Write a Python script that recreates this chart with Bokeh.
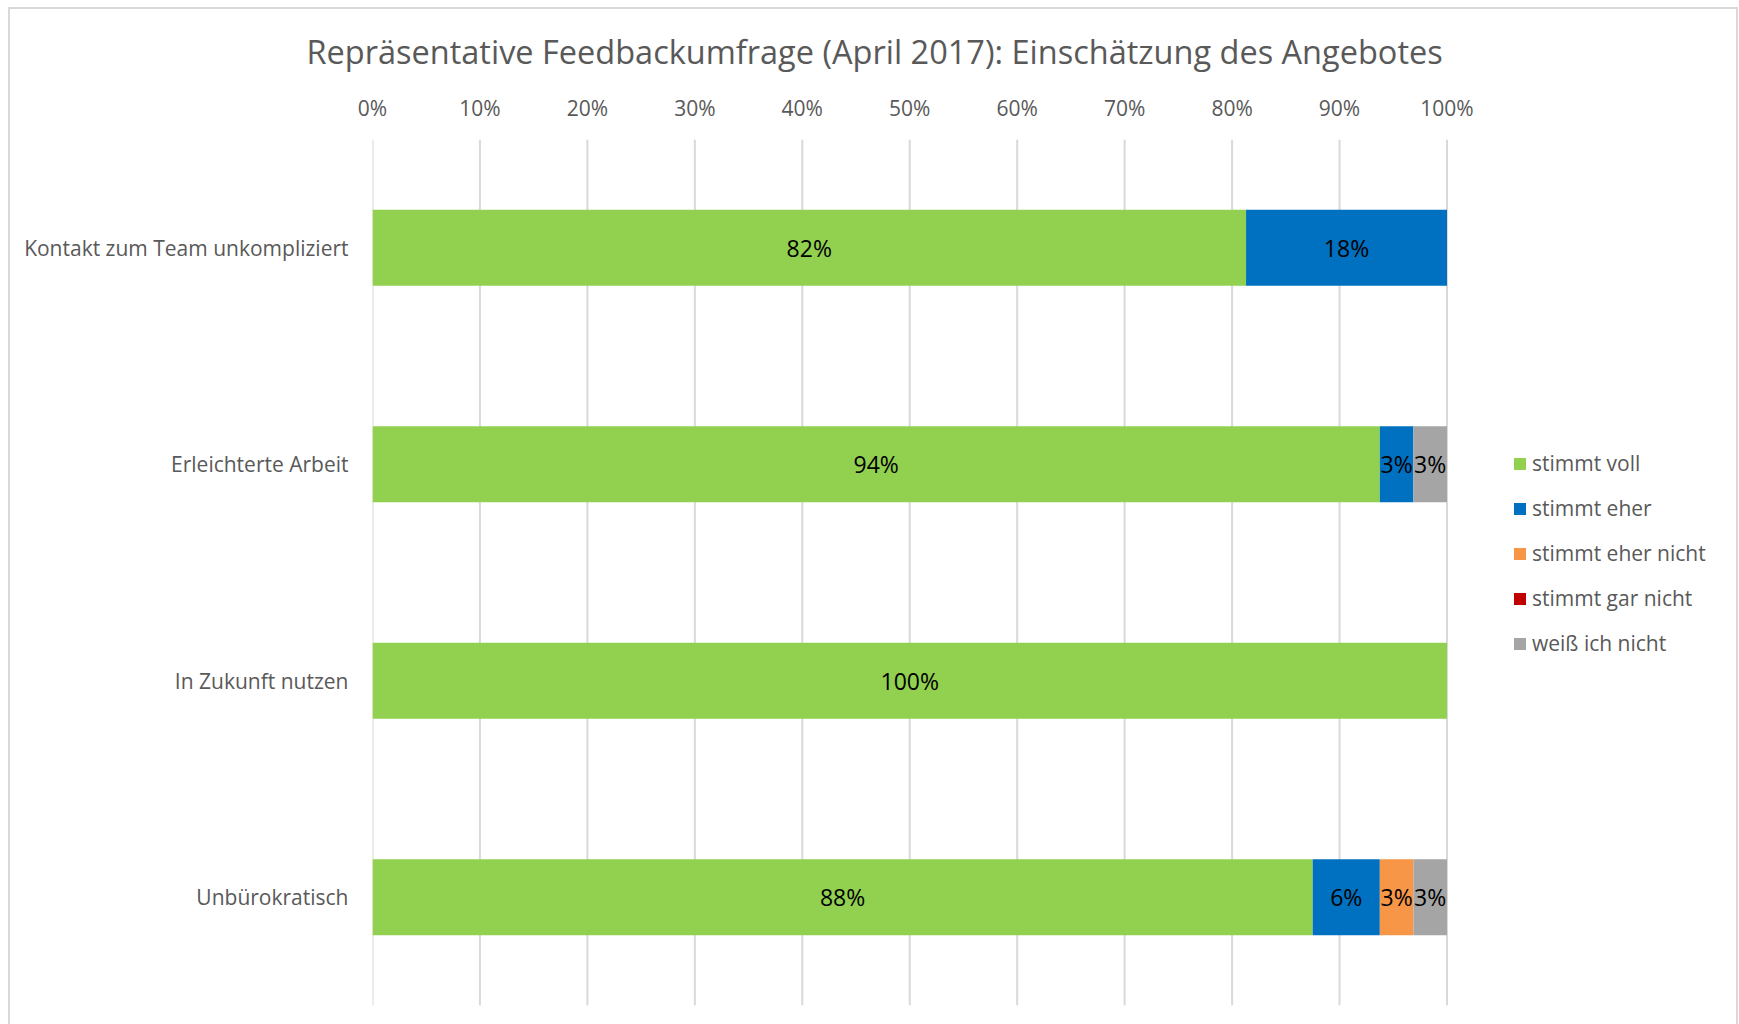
from bokeh.plotting import figure
from bokeh.models import (FactorRange, Range1d, FixedTicker, PrintfTickFormatter,
                          ColumnDataSource, Legend, LegendItem, Span)
from bokeh.core.properties import value
from bokeh.embed import file_html
from bokeh.resources import INLINE

title_text = "Repräsentative Feedbackumfrage (April 2017): Einschätzung des Angebotes"
categories = ["Kontakt zum Team unkompliziert", "Erleichterte Arbeit", "In Zukunft nutzen", "Unbürokratisch"]
series_names = ["stimmt voll", "stimmt eher", "stimmt eher nicht", "stimmt gar nicht", "weiß ich nicht"]
series_colors = ["#92D050", "#0070C0", "#F79646", "#C00000", "#A5A5A5"]

stimmt_voll = [81.3, 93.75, 100.0, 87.5]
stimmt_eher = [18.7, 3.125, 0.0, 6.25]
stimmt_eher_nicht = [0.0, 0.0, 0.0, 3.125]
stimmt_gar_nicht = [0.0, 0.0, 0.0, 0.0]
weiss_ich_nicht = [0.0, 3.125, 0.0, 3.125]

label_voll = ["82%", "94%", "100%", "88%"]
label_eher = ["18%", "3%", "", "6%"]
label_eher_nicht = ["", "", "", "3%"]
label_gar_nicht = ["", "", "", ""]
label_weiss = ["", "3%", "", "3%"]

x_ticks = [0, 10, 20, 30, 40, 50, 60, 70, 80, 90, 100]

FONT = "Open Sans"
GRAY = "#595959"

series_values = [stimmt_voll, stimmt_eher, stimmt_eher_nicht, stimmt_gar_nicht, weiss_ich_nicht]
series_labels = [label_voll, label_eher, label_eher_nicht, label_gar_nicht, label_weiss]

# frame extends past 100% to hold the legend; 100% sits at the same pixel as in the reference
FRAME_W = 1730 - 4 - 362 - 20
X_END = 100 * FRAME_W / 1071.3

p = figure(width=1730, height=1017, output_backend="svg", toolbar_location=None,
           y_range=FactorRange(*list(reversed(categories))), x_range=Range1d(0, X_END),
           x_axis_location="above",
           min_border_left=362, min_border_right=20, min_border_top=130, min_border_bottom=21)
p.styles = {"margin-left": "8px", "margin-top": "7px",
            "border-top": "2px solid #D9D9D9", "border-left": "2px solid #D9D9D9",
            "border-right": "2px solid #D9D9D9"}

p.title.text = title_text
p.title.align = "left"
p.title.offset = -66
p.title.standoff = 33
p.title.text_font = FONT
p.title.text_font_size = "32.5px"
p.title.text_font_style = "normal"
p.title.text_color = GRAY

p.outline_line_color = None
p.background_fill_color = "white"
p.border_fill_color = "white"

# vertical gridlines at every tick (including 0% and 100%)
p.xgrid.grid_line_color = None
p.ygrid.grid_line_color = None
for t in x_ticks:
    p.add_layout(Span(location=t, dimension="height", line_color="#D9D9D9",
                      line_width=2, level="underlay"))

# stacked bars
items = []
lefts = [0.0] * len(categories)
label_x, label_y, label_t = [], [], []
for name, color, vals, labs in zip(series_names, series_colors, series_values, series_labels):
    rights = [l + v for l, v in zip(lefts, vals)]
    src = ColumnDataSource(dict(y=categories, left=lefts, right=rights))
    r = p.hbar(y="y", left="left", right="right", height=0.35, source=src,
               fill_color=color, line_color=None)
    items.append(LegendItem(label=name, renderers=[r]))
    for c, l, v, t in zip(categories, lefts, vals, labs):
        if v > 0 and t:
            label_x.append(l + v / 2)
            label_y.append(c)
            label_t.append(t)
    lefts = rights

p.text(x=label_x, y=label_y, text=label_t, text_align="center", text_baseline="middle",
       text_font=value(FONT), text_font_size="23px", text_color="black")

# axes
xa = p.xaxis[0]
xa.ticker = FixedTicker(ticks=x_ticks)
xa.formatter = PrintfTickFormatter(format="%d%%")
xa.axis_line_color = None
xa.major_tick_line_color = None
xa.minor_tick_line_color = None
xa.major_label_text_font = FONT
xa.major_label_text_font_size = "21px"
xa.major_label_text_color = GRAY
xa.major_label_standoff = 12

ya = p.yaxis[0]
ya.axis_line_color = None
ya.major_tick_line_color = None
ya.minor_tick_line_color = None
ya.major_label_text_font = FONT
ya.major_label_text_font_size = "21px"
ya.major_label_text_color = GRAY
ya.major_label_standoff = 18

legend = Legend(items=items, location=(1140, 348), orientation="vertical",
                glyph_width=15, glyph_height=15, label_standoff=5, spacing=17,
                label_text_font=FONT, label_text_font_size="21px", label_text_color=GRAY,
                border_line_color=None, background_fill_alpha=0, padding=0, margin=0)
p.add_layout(legend, "center")

open("out.html", "w").write(file_html(p, INLINE))
